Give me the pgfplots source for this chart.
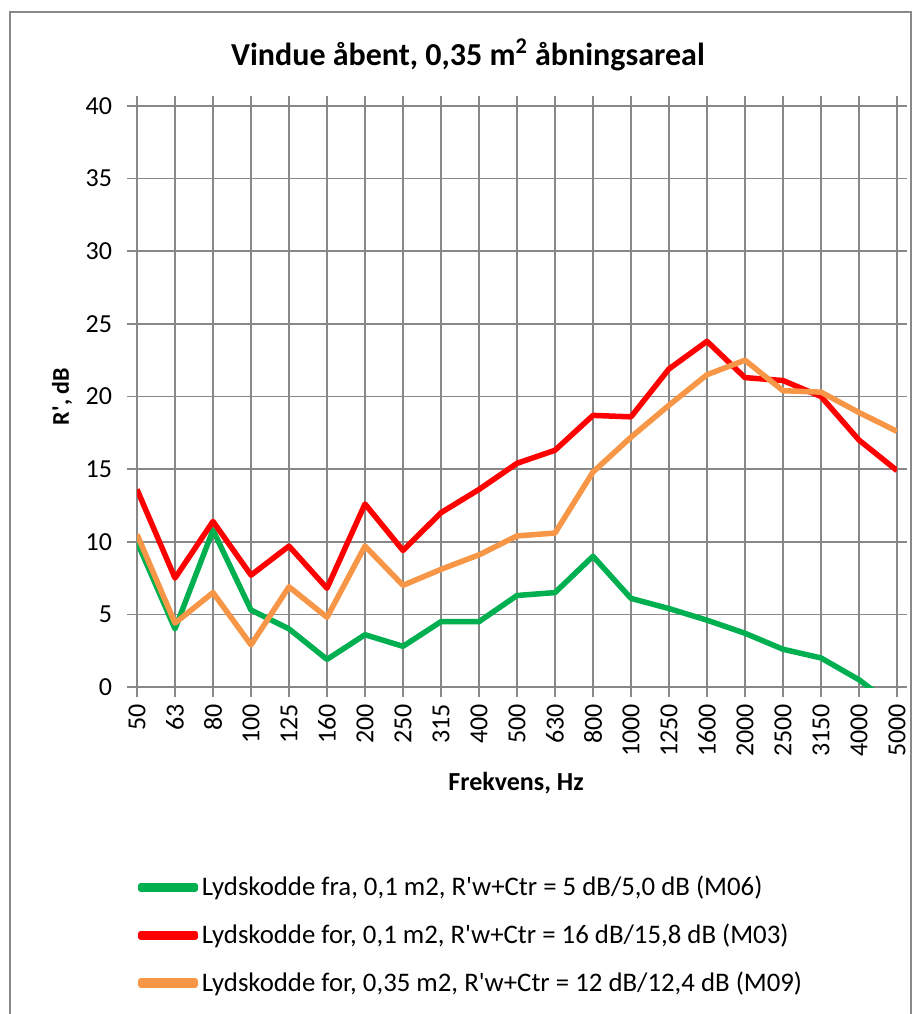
\documentclass[border=0pt]{standalone}
\usepackage{fontspec}
\setmainfont{Carlito}
\usepackage{pgfplots}
\usepackage{pgfplotstable}
\pgfplotsset{compat=1.18}
\definecolor{sgreen}{HTML}{00B050}
\definecolor{sred}{HTML}{FF0000}
\definecolor{sorange}{HTML}{F79646}
\definecolor{gridgray}{HTML}{888888}

% x = category index (50 Hz ... 5000 Hz)
\pgfplotstableread{
x  fra    for01  for035
0  10.0   13.6   10.5
1  4.0    7.5    4.4
2  10.8   11.4   6.5
3  5.3    7.7    2.9
4  4.0    9.7    6.9
5  1.9    6.8    4.8
6  3.6    12.6   9.7
7  2.8    9.4    7.0
8  4.5    12.0   8.1
9  4.5    13.6   9.1
10 6.3    15.4   10.4
11 6.5    16.3   10.6
12 9.0    18.7   14.8
13 6.1    18.6   17.2
14 5.4    21.9   19.4
15 4.6    23.8   21.5
16 3.7    21.3   22.5
17 2.6    21.1   20.4
18 2.0    20.0   20.3
19 0.5    17.0   18.9
20 -1.5   14.9   17.6
}\rdata

\begin{document}
\begin{tikzpicture}[x=0.5pt,y=0.5pt]
\useasboundingbox (0,0) rectangle (914,1014);
\draw[gridgray, line width=0.6pt] (10,0) -- (10,1002) -- (911,1002) -- (911,0);
\node[font=\bfseries\fontsize{16}{19}\selectfont] at (468,959)
  {Vindue åbent, 0,35 m\textsuperscript{2} åbningsareal};
\begin{axis}[
    at={(68.5pt,163.5pt)}, anchor=south west,
    scale only axis,
    width=380pt, height=290.5pt,
    xmin=0, xmax=20, ymin=0, ymax=40,
    xtick={0,...,20},
    xticklabels={50,63,80,100,125,160,200,250,315,400,500,630,800,1000,1250,1600,2000,2500,3150,4000,5000},
    ytick={0,5,...,40},
    /pgf/number format/assume math mode=true,
    tick label style={font=\fontsize{13}{15}\selectfont},
    xticklabel style={rotate=90, anchor=east},
    yticklabel style={xshift=-4pt},
    tick align=outside,
    major tick length=5pt,
    tick style={gridgray, line width=0.8pt},
    grid=major,
    grid style={gridgray, line width=0.8pt},
    axis line style={gridgray, line width=0.8pt},
    xlabel={Frekvens, Hz},
    ylabel={R\textquotesingle, dB},
    xlabel style={font=\bfseries\fontsize{13}{15}\selectfont,
        at={(axis description cs:0.4987,-0.165)}, anchor=center},
    ylabel style={font=\bfseries\fontsize{12}{14}\selectfont,
        at={(axis description cs:-0.0987,0.5)}, anchor=center},
    legend style={at={(axis description cs:0.0013,-0.318)}, anchor=north west,
        draw=none, fill=none, font=\fontsize{13.4}{16}\selectfont,
        row sep=8.6pt, inner sep=0pt},
    legend cell align=left,
    legend image code/.code={
        \path (0pt,-1pt) rectangle (27pt,1pt);
        \draw[overlay, line cap=round] (1.4pt,0pt) -- (26.1pt,0pt);},
    every axis plot/.append style={line width=2.75pt, line join=round},
]
\addplot[sgreen] table[x=x, y=fra] {\rdata};
\addlegendentry{Lydskodde fra, 0,1 m2, R\textquotesingle w+Ctr = 5 dB/5,0 dB (M06)}
\addplot[sred] table[x=x, y=for01] {\rdata};
\addlegendentry{Lydskodde for, 0,1 m2, R\textquotesingle w+Ctr = 16 dB/15,8 dB (M03)}
\addplot[sorange] table[x=x, y=for035] {\rdata};
\addlegendentry{Lydskodde for, 0,35 m2, R\textquotesingle w+Ctr = 12 dB/12,4 dB (M09)}
\end{axis}
\end{tikzpicture}
\end{document}
